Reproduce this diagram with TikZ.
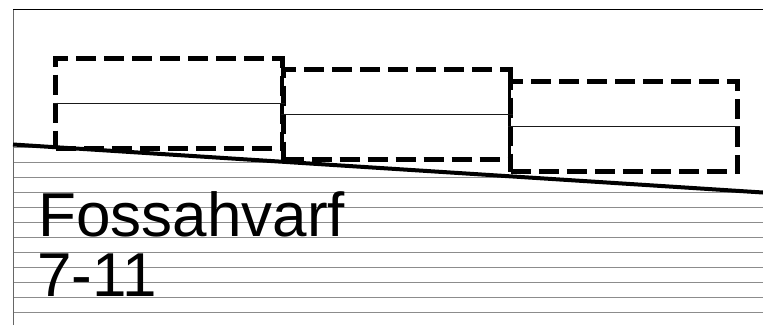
\documentclass[tikz,border=0pt]{standalone}
\usepackage{fontspec}
\setmainfont{Liberation Sans}
\begin{document}
\begin{tikzpicture}[x=1pt,y=-1pt,
  rule/.style={draw=black!45,line width=1pt},
  framel/.style={draw=black!60,line width=1pt},
  plate/.style={draw=black,fill=white,line width=5pt,dash pattern=on 20pt off 8pt,minimum width=227pt,minimum height=90pt,inner sep=0pt,anchor=north west},
  midline/.style={draw=black!90,line width=1pt},
  slope/.style={draw=black,line width=4pt},
  label/.style={font=\fontsize{62}{62}\selectfont,inner sep=0pt,anchor=base west}]
\useasboundingbox (0,0) rectangle (763,325);
\fill[white] (0,0) rectangle (763,325);
% sloped line end points
\coordinate (s1) at (13,144.5);
\coordinate (s2) at (763,192.5);
% ruled lines, only below the sloped line
\begin{scope}
  \clip (s1) -- (s2) -- (763,325) -- (13,325) -- cycle;
  \foreach \k in {0,...,11}{
    \draw[rule] (13,{147.5+15*\k}) -- (763,{147.5+15*\k});
  }
\end{scope}
% frame
\coordinate (tl) at (13.3,9.3);
\coordinate (tr) at (763,9.3);
\coordinate (bl) at (13.3,325);
\draw[framel] (bl) -- (tl);
\draw[black,line width=1pt] (tl) -- (tr);
% plates
\node[plate] (p1) at (53.3,56) {};
\node[plate] (p2) at (281,67) {};
\node[plate] (p3) at (508.3,79) {};
\draw[midline] (p1.west) -- (p1.east);
\draw[midline] (p2.west) -- (p2.east);
\draw[midline] (p3.west) -- (p3.east);
\draw[slope] (s1) -- (s2);
% text
\node[label] (t1) at (38.3,236.7) {Fossahvarf};
\node[label] (t2) at (36.8,296.7) {7-11};
\end{tikzpicture}
\end{document}
